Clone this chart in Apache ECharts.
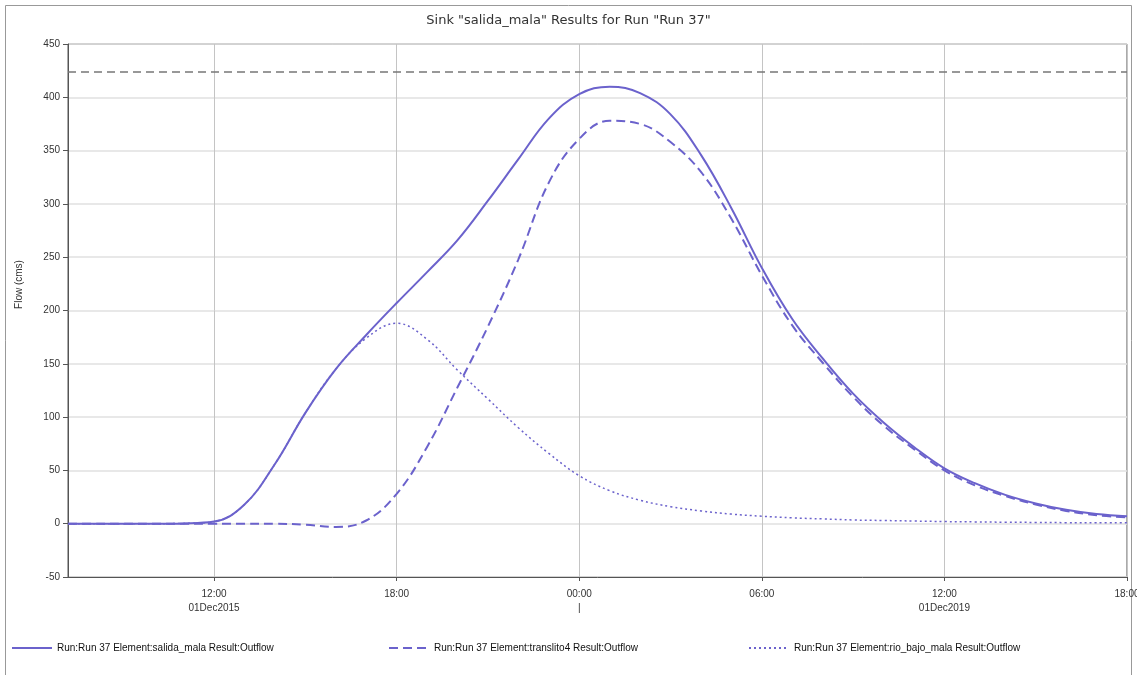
<!DOCTYPE html>
<html lang="en">
  <head>
    <meta charset="UTF-8" />
    <title>Sink salida_mala</title>
    <script src="https://cdn.jsdelivr.net/npm/echarts@6.0.0/dist/echarts.min.js"></script>
    <style>
      html, body { margin: 0; padding: 0; background: #fff; }
    </style>
  </head>
  <body>
    <div id="main" style="width: 1137px; height: 675px"></div>
    <script type="text/javascript">
      // hours since 00:00 of the first day
      const hours = [7.2, 8, 9, 10, 11, 12, 13, 14, 15, 16, 17, 18, 19, 20, 21, 22, 23, 24,
        25, 26, 27, 28, 29, 30, 31, 32, 33, 34, 35, 36, 37, 38, 39, 40, 41, 42];
      const salidaMala = [0, 0, 0, 0, 0.3, 2, 18, 56, 104, 145, 177, 207, 236, 266, 303, 342, 380, 403,
        410, 404, 384, 346, 296, 240, 192, 155, 122, 95, 72, 52, 38, 27, 19, 13, 9, 7];
      const translito4 = [0, 0, 0, 0, 0, 0, 0, 0, -1, -3, 3, 28, 72, 128, 185, 248, 320, 361,
        378, 375, 358, 330, 286, 233, 186, 151, 119, 92, 70, 50, 36, 26, 18, 12, 8, 6];
      const rioBajoMala = [0, 0, 0, 0, 0.3, 2, 18, 56, 104, 145, 174, 188, 173, 144, 117, 90, 66, 45,
        31, 22, 16, 12, 9, 7, 5.5, 4.5, 3.5, 3, 2.5, 2, 1.7, 1.4, 1.2, 1, 1, 1];
      const tickHours = [12, 18, 24, 30, 36, 42];
      const tickLabels = ["12:00\n01Dec2015", "18:00", "00:00\n|", "06:00", "12:00\n01Dec2019", "18:00"];
      const thresholdFlow = 424;

      const names = [
        "Run:Run 37 Element:salida_mala Result:Outflow",
        "Run:Run 37 Element:translito4 Result:Outflow",
        "Run:Run 37 Element:rio_bajo_mala Result:Outflow",
      ];
      const lineColor = "#6b62cc";
      const pairs = (ys) => hours.map((h, i) => [h, ys[i]]);

      const legendText = { fontSize: 10, color: "#111", fontFamily: "Liberation Sans Narrow, Arial Narrow, Liberation Sans, sans-serif" };
      const mkLegend = (name, left) => ({
        data: [name],
        left: left,
        top: 638,
        itemWidth: 40,
        itemHeight: 10,
        itemGap: 0,
        itemStyle: { opacity: 0 },
        textStyle: legendText,
        selectedMode: false,
      });

      let options = {
        backgroundColor: "#fff",
        animation: false,
        title: {
          text: 'Sink "salida_mala" Results for Run "Run 37"',
          left: "center",
          top: 9,
          textStyle: { fontSize: 13, fontWeight: "normal", color: "#333", fontFamily: "DejaVu Sans, sans-serif" },
        },
        graphic: [
          {
            type: "rect",
            shape: { x: 5.5, y: 5.5, width: 1126, height: 700 },
            style: { fill: "none", stroke: "#999", lineWidth: 1 },
            silent: true,
          },
        ],
        legend: [mkLegend(names[0], 6), mkLegend(names[1], 383), mkLegend(names[2], 743)],
        grid: {
          left: 68,
          right: 10,
          top: 44,
          bottom: 98,
          outerBoundsMode: "none",
          containLabel: false,
          show: true,
          borderColor: "#555",
          borderWidth: 1,
        },
        xAxis: {
          type: "value",
          min: 7.2,
          max: 42,
          axisLine: { onZero: false, lineStyle: { color: "#555" } },
          axisTick: { show: true, length: 4, customValues: tickHours, lineStyle: { color: "#555" } },
          axisLabel: {
            customValues: tickHours,
            formatter: (v) => tickLabels[tickHours.indexOf(v)] || "",
            fontSize: 10,
            lineHeight: 14,
            color: "#333",
            margin: 10,
            hideOverlap: false,
            fontFamily: "Liberation Sans, Arial, sans-serif",
          },
          splitLine: { show: true, lineStyle: { color: "#c4c4c4", width: 1 } },
        },
        yAxis: {
          type: "value",
          min: -50,
          max: 450,
          interval: 50,
          name: "Flow (cms)",
          nameLocation: "middle",
          nameGap: 44,
          nameTextStyle: { fontSize: 10, color: "#333", padding: [0, 0, 0, 52], fontFamily: "Liberation Sans, Arial, sans-serif" },
          axisLine: { show: true, onZero: false, lineStyle: { color: "#555" } },
          axisTick: { show: true, length: 5, lineStyle: { color: "#555" } },
          axisLabel: { fontSize: 10, color: "#333", margin: 8, fontFamily: "Liberation Sans, Arial, sans-serif" },
          splitLine: { show: true, lineStyle: { color: "#e0e0e0", width: 1.5 } },
        },
        series: [
          {
            name: names[0],
            type: "line",
            data: pairs(salidaMala),
            smooth: 0.4,
            showSymbol: false,
            symbol: "none",
            lineStyle: { color: lineColor, width: 2 },
            itemStyle: { color: lineColor },
            z: 4,
            markLine: {
              silent: true,
              symbol: "none",
              label: { show: false },
              lineStyle: { color: "#777", type: [8, 5], width: 1.5 },
              data: [{ yAxis: thresholdFlow }],
            },
          },
          {
            name: names[1],
            type: "line",
            data: pairs(translito4),
            smooth: 0.4,
            showSymbol: false,
            symbol: "none",
            lineStyle: { color: lineColor, width: 2, type: [9, 5] },
            itemStyle: { color: lineColor },
            z: 3,
          },
          {
            name: names[2],
            type: "line",
            data: pairs(rioBajoMala),
            smooth: 0.4,
            showSymbol: false,
            symbol: "none",
            lineStyle: { color: lineColor, width: 1.5, type: [2, 3] },
            itemStyle: { color: lineColor },
            z: 2,
          },
        ],
      };

      let myChart = echarts.init(document.getElementById("main"));
      myChart.setOption(options);
    </script>
  </body>
</html>
